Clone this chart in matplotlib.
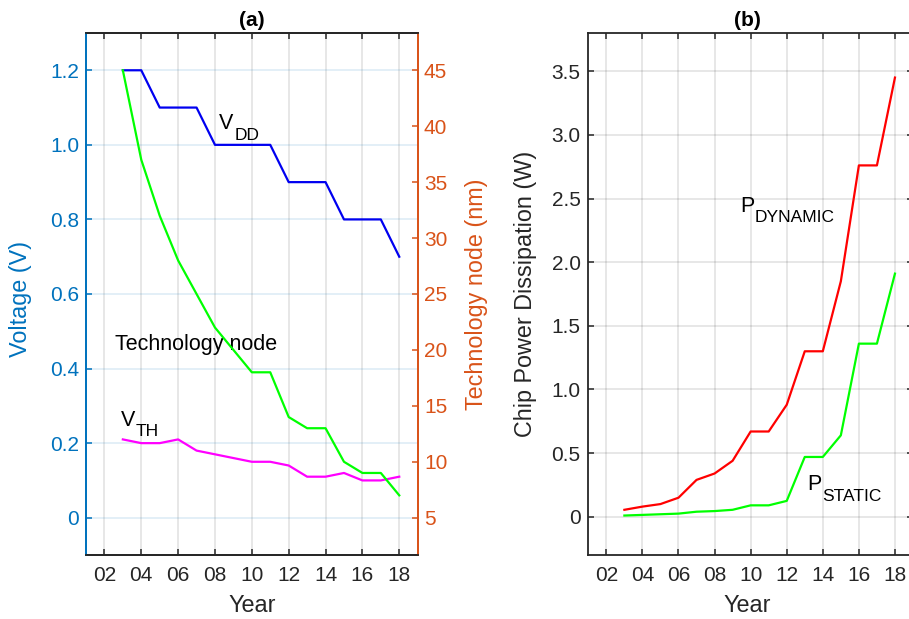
import matplotlib
matplotlib.use('Agg')
import matplotlib.pyplot as plt

plt.rcParams['font.family'] = ['Liberation Sans', 'DejaVu Sans']

# Data
years = [2003, 2004, 2005, 2006, 2007, 2008, 2009, 2010,
         2011, 2012, 2013, 2014, 2015, 2016, 2017, 2018]
vdd = [1.2, 1.2, 1.1, 1.1, 1.1, 1.0, 1.0, 1.0,
       1.0, 0.9, 0.9, 0.9, 0.8, 0.8, 0.8, 0.7]
vth = [0.21, 0.20, 0.20, 0.21, 0.18, 0.17, 0.16, 0.15,
       0.15, 0.14, 0.11, 0.11, 0.12, 0.10, 0.10, 0.11]
tech_node = [45, 37, 32, 28, 25, 22, 20, 18,
             18, 14, 13, 13, 10, 9, 9, 7]
p_dynamic = [0.055, 0.08, 0.10, 0.15, 0.29, 0.34, 0.44, 0.67,
             0.67, 0.88, 1.30, 1.30, 1.85, 2.76, 2.76, 3.45]
p_static = [0.01, 0.015, 0.02, 0.025, 0.04, 0.045, 0.055, 0.09,
            0.09, 0.125, 0.47, 0.47, 0.64, 1.36, 1.36, 1.91]

year_ticks = [2002, 2004, 2006, 2008, 2010, 2012, 2014, 2016, 2018]
year_labels = ['02', '04', '06', '08', '10', '12', '14', '16', '18']
volt_ticks = [0, 0.2, 0.4, 0.6, 0.8, 1.0, 1.2]
volt_labels = ['0', '0.2', '0.4', '0.6', '0.8', '1.0', '1.2']
nm_ticks = [5, 10, 15, 20, 25, 30, 35, 40, 45]
power_ticks = [0, 0.5, 1.0, 1.5, 2.0, 2.5, 3.0, 3.5]
power_labels = ['0', '0.5', '1.0', '1.5', '2.0', '2.5', '3.0', '3.5']

blue_axis = '#0072BD'
orange_axis = '#D95319'
dark = '#262626'
tick_size = 15
label_size = 16.8


def sub_text(ax, x, y, main, sub):
    # Main letter plus a dropped subscript, MATLAB style
    ax.annotate(main, (x, y), fontsize=15.5, color='black', va='baseline')
    ax.annotate(sub, (x, y), xytext=(10.8, -7.5), textcoords='offset points',
                fontsize=12.5, color='black', va='baseline')


fig = plt.figure(figsize=(9.09, 6.19), dpi=100)

# ---------------- panel (a) ----------------
ax1 = fig.add_axes([0.0946, 0.1034, 0.3649, 0.8433])
ax2 = ax1.twinx()

ax1.plot(years, vdd, color='#0000F0', lw=1.6)
ax1.plot(years, vth, color='#FF00FF', lw=1.6)
ax2.plot(years, tech_node, color='#00FF00', lw=1.6)

ax1.set_xlim(2001, 2019)
ax1.set_ylim(-0.1, 1.3)
ax2.set_ylim(5 - 0.1 * 100 / 3, 5 + 1.3 * 100 / 3)

ax1.set_xticks(year_ticks)
ax1.set_xticklabels(year_labels)
ax1.set_yticks(volt_ticks)
ax1.set_yticklabels(volt_labels)
ax2.set_yticks(nm_ticks)

ax1.grid(axis='x', color=dark, alpha=0.13, lw=1.2)
ax1.grid(axis='y', color=blue_axis, alpha=0.13, lw=1.2)
ax1.set_axisbelow(True)

ax1.tick_params(axis='x', direction='in', top=True, length=4, width=1.1,
                colors=dark, labelsize=tick_size, pad=8)
ax1.tick_params(axis='y', direction='in', length=4, width=1.1,
                colors=blue_axis, labelsize=tick_size, pad=5)
ax2.tick_params(axis='y', direction='in', length=4, width=1.1,
                colors=orange_axis, labelsize=tick_size, pad=4.5)

for ax in (ax1, ax2):
    ax.spines['top'].set_color(dark)
    ax.spines['bottom'].set_color(dark)
    ax.spines['left'].set_color(blue_axis)
    ax.spines['right'].set_color(orange_axis)
    for s in ax.spines.values():
        s.set_linewidth(1.3)

ax1.set_xlabel('Year', fontsize=label_size, color=dark)
ax1.xaxis.set_label_coords(0.5, -0.075)
ax1.set_ylabel('Voltage (V)', fontsize=label_size, color=blue_axis)
ax1.yaxis.set_label_coords(-0.163, 0.49)
ax2.set_ylabel('Technology node (nm)', fontsize=label_size, color=orange_axis)
ax2.yaxis.set_label_coords(1.1426, 0.5)
ax1.set_title('(a)', fontsize=15, fontweight='bold', pad=5)

sub_text(ax1, 2008.24, 1.042, 'V', 'DD')
sub_text(ax1, 2002.9, 0.247, 'V', 'TH')
ax1.text(2002.6, 0.45, 'Technology node', fontsize=15.5, va='baseline')

# ---------------- panel (b) ----------------
ax3 = fig.add_axes([0.6472, 0.1034, 0.3572, 0.8433])

ax3.plot(years, p_dynamic, color='#FF0000', lw=1.6)
ax3.plot(years, p_static, color='#00FF00', lw=1.6)

ax3.set_xlim(2001, 2019)
ax3.set_ylim(-0.3, 3.8)
ax3.set_xticks(year_ticks)
ax3.set_xticklabels(year_labels)
ax3.set_yticks(power_ticks)
ax3.set_yticklabels(power_labels)

ax3.grid(True, color=dark, alpha=0.13, lw=1.2)
ax3.set_axisbelow(True)
ax3.tick_params(axis='both', direction='in', top=True, right=True, length=4,
                width=1.1, colors=dark, labelsize=tick_size)
ax3.tick_params(axis='x', pad=8)
ax3.tick_params(axis='y', pad=5.5)
for s in ax3.spines.values():
    s.set_color(dark)
    s.set_linewidth(1.3)

ax3.set_xlabel('Year', fontsize=label_size, color=dark)
ax3.xaxis.set_label_coords(0.49, -0.075)
ax3.set_ylabel('Chip Power Dissipation (W)', fontsize=label_size, color=dark)
ax3.yaxis.set_label_coords(-0.157, 0.5)
ax3.set_title('(b)', fontsize=15, fontweight='bold', pad=5, x=0.49)

sub_text(ax3, 2009.41, 2.396, 'P', 'DYNAMIC')
sub_text(ax3, 2013.13, 0.209, 'P', 'STATIC')

fig.savefig('out.png', dpi=100)
